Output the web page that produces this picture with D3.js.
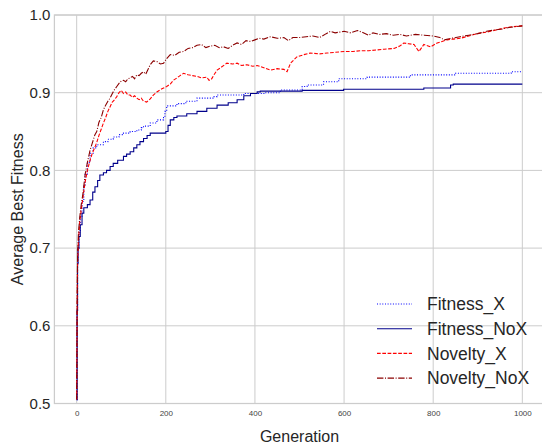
<!DOCTYPE html>
<html>
<head>
<meta charset="utf-8">
<script src="https://cdn.jsdelivr.net/npm/d3@7"></script>
<style>
  body { margin: 0; background: #fff; }
  svg { display: block; font-family: "Liberation Sans", Arial, sans-serif; }
</style>
</head>
<body>
<div id="chart"></div>
<script>
// data: [generation, average best fitness]
const fitnessX = [[0,0.505],[1,0.62],[2,0.68],[3,0.70],[5,0.72],[8,0.74],[12,0.76],[16,0.78],[19,0.795],[24,0.81],[30,0.822],[37,0.829],[45,0.833],[60,0.837],[70,0.840],[82,0.843],[95,0.846],[105,0.848],[120,0.850],[135,0.852],[145,0.855],[150,0.857],[165,0.861],[180,0.865],[195,0.868],[198,0.876],[202,0.883],[225,0.886],[245,0.889],[270,0.893],[307,0.895],[315,0.897],[375,0.899],[420,0.900],[457,0.9035],[506,0.908],[517,0.910],[554,0.914],[588,0.918],[652,0.920],[749,0.923],[850,0.925],[975,0.927],[1000,0.927]];

const fitnessNoX = [[0,0.505],[1,0.62],[2,0.68],[3,0.70],[5,0.715],[8,0.73],[12,0.745],[16,0.752],[24,0.756],[30,0.762],[36,0.772],[41,0.779],[47,0.787],[52,0.794],[60,0.797],[67,0.800],[75,0.805],[82,0.809],[92,0.813],[105,0.818],[112,0.821],[120,0.824],[128,0.829],[135,0.833],[142,0.837],[150,0.841],[158,0.845],[165,0.848],[200,0.850],[205,0.858],[210,0.865],[218,0.868],[225,0.870],[247,0.873],[270,0.876],[292,0.880],[315,0.884],[340,0.887],[360,0.891],[375,0.896],[390,0.899],[405,0.901],[412,0.902],[506,0.903],[599,0.9045],[779,0.906],[839,0.910],[845,0.911],[1000,0.911]];

const noveltyX = [[0,0.505],[1,0.62],[2,0.68],[4,0.71],[7,0.735],[10,0.748],[14,0.765],[19,0.785],[24,0.80],[30,0.813],[35,0.822],[41,0.830],[45,0.836],[50,0.845],[55,0.853],[60,0.861],[65,0.868],[70,0.876],[75,0.882],[80,0.888],[85,0.891],[90,0.895],[95,0.900],[100,0.903],[105,0.899],[110,0.901],[115,0.897],[120,0.897],[125,0.894],[130,0.896],[135,0.893],[140,0.891],[145,0.893],[150,0.889],[157,0.888],[165,0.892],[172,0.897],[180,0.901],[188,0.904],[195,0.906],[202,0.908],[210,0.911],[217,0.916],[225,0.919],[232,0.922],[240,0.925],[250,0.923],[260,0.922],[270,0.921],[280,0.919],[292,0.920],[297,0.916],[302,0.917],[308,0.923],[315,0.929],[325,0.933],[337,0.938],[350,0.937],[360,0.938],[370,0.935],[382,0.936],[395,0.934],[405,0.935],[420,0.932],[435,0.929],[450,0.931],[465,0.930],[472,0.927],[480,0.938],[494,0.946],[510,0.949],[524,0.951],[545,0.950],[562,0.951],[580,0.952],[600,0.953],[620,0.953],[637,0.954],[655,0.954],[674,0.955],[690,0.956],[712,0.957],[725,0.960],[734,0.964],[745,0.963],[757,0.962],[768,0.953],[779,0.962],[794,0.959],[809,0.964],[820,0.966],[831,0.968],[845,0.969],[861,0.970],[880,0.973],[899,0.976],[920,0.978],[936,0.980],[950,0.982],[966,0.984],[980,0.985],[1000,0.986]];

const noveltyNoX = [[0,0.505],[1,0.63],[2,0.69],[4,0.72],[7,0.74],[10,0.755],[14,0.77],[19,0.795],[24,0.81],[30,0.826],[35,0.835],[41,0.846],[45,0.850],[50,0.862],[55,0.868],[60,0.878],[65,0.884],[70,0.889],[75,0.893],[80,0.899],[85,0.904],[90,0.908],[95,0.912],[100,0.915],[105,0.916],[110,0.914],[115,0.918],[120,0.919],[125,0.921],[130,0.918],[135,0.923],[140,0.922],[145,0.925],[150,0.927],[155,0.924],[160,0.930],[165,0.936],[172,0.941],[180,0.940],[188,0.937],[195,0.938],[202,0.944],[210,0.949],[220,0.948],[230,0.952],[240,0.953],[250,0.957],[260,0.958],[270,0.961],[280,0.962],[290,0.958],[300,0.960],[310,0.961],[320,0.958],[330,0.959],[340,0.957],[350,0.961],[360,0.964],[370,0.962],[380,0.967],[390,0.966],[400,0.968],[410,0.970],[420,0.969],[435,0.972],[450,0.970],[465,0.971],[475,0.967],[485,0.971],[500,0.971],[515,0.972],[530,0.973],[545,0.971],[560,0.976],[570,0.979],[580,0.977],[590,0.978],[600,0.979],[615,0.977],[630,0.980],[640,0.978],[655,0.974],[665,0.977],[680,0.975],[695,0.976],[710,0.974],[725,0.975],[740,0.973],[760,0.975],[780,0.974],[800,0.973],[815,0.971],[825,0.968],[840,0.970],[860,0.972],[880,0.974],[900,0.976],[920,0.979],[940,0.981],[955,0.982],[970,0.984],[985,0.985],[1000,0.986]];

const seriesNames = ['Fitness_X', 'Fitness_NoX', 'Novelty_X', 'Novelty_NoX'];
const xTicks = [0, 200, 400, 600, 800, 1000];
const yTicks = [0.5, 0.6, 0.7, 0.8, 0.9, 1.0];

const series = [
  {name: seriesNames[0], values: fitnessX, color: '#0000ff', dash: '1,1.65', step: true},
  {name: seriesNames[1], values: fitnessNoX, color: '#00008b', dash: null, step: true},
  {name: seriesNames[2], values: noveltyX, color: '#ff0000', dash: '3.7,1.6', step: false},
  {name: seriesNames[3], values: noveltyNoX, color: '#8b0000', dash: '6.4,1.6,1,1.6', step: false}
];

const svgWidth = 542;
const svgHeight = 446;
const plot = {left: 54.4, right: 544.6, top: 15, bottom: 403.5};

const svg = d3.select('#chart').append('svg')
    .attr('width', svgWidth).attr('height', svgHeight);

const x = d3.scaleLinear().domain([-50, 1050]).range([plot.left, plot.right]);
const y = d3.scaleLinear().domain([0.5, 1.0]).range([plot.bottom, plot.top]);

// grid
const grid = svg.append('g');
grid.selectAll('.vg').data(xTicks).enter().append('line')
    .attr('x1', d => x(d)).attr('x2', d => x(d))
    .attr('y1', plot.top).attr('y2', plot.bottom)
    .attr('stroke', '#cccccc').attr('stroke-width', 1);
grid.selectAll('.hg').data(yTicks).enter().append('line')
    .attr('x1', plot.left).attr('x2', plot.right)
    .attr('y1', d => y(d)).attr('y2', d => y(d))
    .attr('stroke', '#cccccc').attr('stroke-width', 1);

// spines
svg.append('rect')
    .attr('x', plot.left).attr('y', plot.top)
    .attr('width', plot.right - plot.left).attr('height', plot.bottom - plot.top)
    .attr('fill', 'none').attr('stroke', '#cccccc').attr('stroke-width', 1.25);

// axes
const xAxis = svg.append('g')
    .attr('transform', `translate(0, ${plot.bottom})`)
    .call(d3.axisBottom(x).tickValues(xTicks).tickSize(0).tickPadding(7).tickFormat(d3.format('d')));
xAxis.select('.domain').remove();
xAxis.selectAll('text').attr('font-size', 8).attr('fill', '#444').attr('font-family', '"Liberation Sans", Arial, sans-serif');

const yAxis = svg.append('g')
    .attr('transform', `translate(${plot.left}, 0)`)
    .call(d3.axisLeft(y).tickValues(yTicks).tickSize(0).tickPadding(4).tickFormat(d3.format('.1f')));
yAxis.select('.domain').remove();
yAxis.selectAll('text').attr('font-size', 15).attr('fill', '#262626').attr('font-family', '"Liberation Sans", Arial, sans-serif');

// labels
svg.append('text')
    .attr('x', (plot.left + plot.right) / 2).attr('y', 442)
    .attr('text-anchor', 'middle').attr('font-size', 16).attr('fill', '#262626')
    .text('Generation');
svg.append('text')
    .attr('transform', `translate(23, ${(plot.top + plot.bottom) / 2}) rotate(-90)`)
    .attr('text-anchor', 'middle').attr('font-size', 16).attr('fill', '#262626')
    .text('Average Best Fitness');

// lines
svg.append('clipPath').attr('id', 'clip').append('rect')
    .attr('x', plot.left).attr('y', plot.top)
    .attr('width', plot.right - plot.left).attr('height', plot.bottom - plot.top);

const lines = svg.append('g').attr('clip-path', 'url(#clip)');
series.forEach(s => {
    const line = d3.line()
        .x(d => x(d[0])).y(d => y(d[1]))
        .curve(s.step ? d3.curveStepAfter : d3.curveLinear);
    lines.append('path')
        .datum(s.values)
        .attr('d', line)
        .attr('fill', 'none')
        .attr('stroke', s.color)
        .attr('stroke-width', 1.1)
        .attr('stroke-dasharray', s.dash);
});

// legend
const legend = svg.append('g').attr('transform', 'translate(377, 304)');
const items = legend.selectAll('g').data(series).enter().append('g')
    .attr('transform', (d, i) => `translate(0, ${i * 24.7})`);
items.append('line')
    .attr('x1', 0).attr('x2', 35).attr('y1', 0).attr('y2', 0)
    .attr('stroke', d => d.color).attr('stroke-width', 1.1)
    .attr('stroke-dasharray', d => d.dash);
items.append('text')
    .attr('x', 50).attr('y', 0).attr('dy', '0.36em')
    .attr('font-size', 17.5).attr('fill', '#262626')
    .text(d => d.name);
</script>
</body>
</html>
